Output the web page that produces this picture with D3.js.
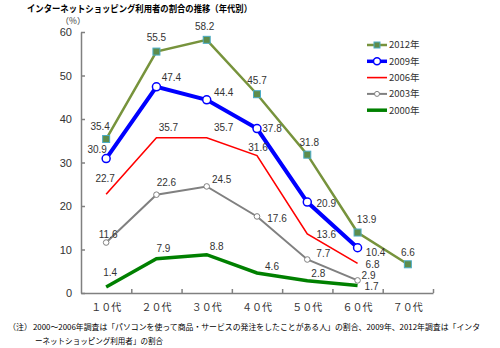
<!DOCTYPE html>
<html>
<head>
<meta charset="utf-8">
<script src="https://cdn.jsdelivr.net/npm/d3@7"></script>
<style>
body{margin:0;background:#fff;}
svg{display:block;font-family:"Liberation Sans",Arial,sans-serif;}
.jp{font-family:"Noto Sans CJK JP","Noto Sans",sans-serif;}
</style>
</head>
<body>
<div id="chart"></div>
<script>
// 年代
var ages = ["１０代","２０代","３０代","４０代","５０代","６０代","７０代"];
var yTicks = [0,10,20,30,40,50,60];
var seriesNames = ["2012年","2009年","2006年","2003年","2000年"];
// 値（％）
var v2012 = [35.4,55.5,58.2,45.7,31.8,13.9,6.6];
var v2009 = [30.9,47.4,44.4,37.8,20.9,10.4];
var v2006 = [22.7,35.7,35.7,31.6,13.6,6.8];
var v2003 = [11.6,22.6,24.5,17.6,7.7,2.9];
var v2000 = [1.4,7.9,8.8,4.6,2.8,1.7];

var W = 500, H = 348;
var svg = d3.select("#chart").append("svg").attr("width",W).attr("height",H);

var x = d3.scaleBand().domain(ages).range([81,433]);
var y = d3.scaleLinear().domain([0,60]).range([293,32]);
var cx = function(i){ return x(ages[i]) + x.bandwidth()/2; };

// タイトル
svg.append("text").attr("class","jp")
	.attr("x",27).attr("y",11.5)
	.attr("textLength",225).attr("lengthAdjust","spacingAndGlyphs")
	.style("font-size","9.5px").style("font-weight","bold").style("fill","#000")
	.text("インターネットショッピング利用者の割合の推移（年代別）");
svg.append("text").attr("class","jp")
	.attr("x",73).attr("y",23.5).attr("text-anchor","middle")
	.style("font-size","8.5px").style("fill","#333")
	.text("（%）");

// 軸
var yAxis = svg.append("g").attr("transform","translate(81,0)")
	.call(d3.axisLeft(y).tickValues(yTicks).tickSize(-4).tickSizeOuter(0).tickPadding(9));
yAxis.selectAll("text").style("font-size","11px").style("fill","#333");

var xb = d3.scaleLinear().domain([0,7]).range([81,433]);
var xAxis = svg.append("g").attr("transform","translate(0,293)")
	.call(d3.axisBottom(xb).ticks(7).tickSize(-4).tickSizeOuter(0).tickFormat(""));
xAxis.selectAll(".tick").filter(function(d){return d===0;}).remove();
svg.selectAll(".domain, .tick line").style("stroke","#808080").style("stroke-width",1.5);

svg.append("g").selectAll("text").data(ages).enter().append("text").attr("class","jp")
	.attr("x",function(d){return x(d)+x.bandwidth()/2;}).attr("y",311)
	.attr("text-anchor","middle")
	.style("font-size","10px").style("fill","#333")
	.text(function(d){return d;});

// 系列
var series = [
	{name:seriesNames[0], vals:v2012, color:"#77933C", w:2.5, marker:"square",
	 off:[[-6,-13],[0,-14],[-2,-13],[0,-14],[2,-12],[9,-13],[0,-12]]},
	{name:seriesNames[1], vals:v2009, color:"#0000FF", w:4, marker:"circle",
	 off:[[-9,-9],[15,-9],[17,-7],[15,0],[19,1],[18,5]]},
	{name:seriesNames[2], vals:v2006, color:"#FF0000", w:1.6, marker:null,
	 off:[[-1,-16],[12,-10],[17,-10],[1,-8],[19,1],[15,1]]},
	{name:seriesNames[3], vals:v2003, color:"#808080", w:2, marker:"small",
	 off:[[2,-8],[10,-12],[15,-7],[20,2],[16,-6],[11,-5]]},
	{name:seriesNames[4], vals:v2000, color:"#008000", w:3.5, marker:null,
	 off:[[4,-14],[7,-10],[10,-8],[15,-6],[11,-7],[14,1]]}
];

var line = d3.line().x(function(d,i){return cx(i);}).y(function(d){return y(d);});

// 奥から描く
series.slice().reverse().forEach(function(s){
	var g = svg.append("g");
	g.append("path").datum(s.vals).attr("d",line)
		.style("fill","none").style("stroke",s.color).style("stroke-width",s.w)
		.style("stroke-linejoin","miter");
	if(s.marker==="square"){
		g.selectAll("rect").data(s.vals).enter().append("rect")
			.attr("x",function(d,i){return cx(i)-3.5;}).attr("y",function(d){return y(d)-3.5;})
			.attr("width",7).attr("height",7)
			.style("fill","#5E8C4A").style("stroke","#4BACC6").style("stroke-width",1);
	}else if(s.marker==="circle"){
		g.selectAll("circle").data(s.vals).enter().append("circle")
			.attr("cx",function(d,i){return cx(i);}).attr("cy",function(d){return y(d);})
			.attr("r",4).style("fill","#fff").style("stroke",s.color).style("stroke-width",1.5);
	}else if(s.marker==="small"){
		g.selectAll("circle").data(s.vals).enter().append("circle")
			.attr("cx",function(d,i){return cx(i);}).attr("cy",function(d){return y(d);})
			.attr("r",2.8).style("fill","#fff").style("stroke",s.color).style("stroke-width",1);
	}
});

// データラベル
series.forEach(function(s){
	svg.append("g").selectAll("text").data(s.vals).enter().append("text")
		.attr("x",function(d,i){return cx(i)+s.off[i][0];})
		.attr("y",function(d,i){return y(d)+s.off[i][1];})
		.attr("dy","0.35em").attr("text-anchor","middle")
		.style("font-size","10px").style("fill","#333")
		.text(function(d){return d.toFixed(1);});
});

// 凡例
var leg = svg.append("g");
series.forEach(function(s,i){
	var ly = 45 + i*16.3;
	leg.append("line").attr("x1",367).attr("x2",387).attr("y1",ly).attr("y2",ly)
		.style("stroke",s.color).style("stroke-width",Math.min(s.w,3.5));
	if(s.marker==="square"){
		leg.append("rect").attr("x",374).attr("y",ly-3).attr("width",6).attr("height",6)
			.style("fill","#5E8C4A").style("stroke","#4BACC6");
	}else if(s.marker==="circle"){
		leg.append("circle").attr("cx",377).attr("cy",ly).attr("r",3.5)
			.style("fill","#fff").style("stroke",s.color).style("stroke-width",1.5);
	}else if(s.marker==="small"){
		leg.append("circle").attr("cx",377).attr("cy",ly).attr("r",2.5)
			.style("fill","#fff").style("stroke",s.color);
	}
	leg.append("text").attr("class","jp").attr("x",389).attr("y",ly).attr("dy","0.35em")
		.style("font-size","9.5px").style("fill","#333").text(s.name);
});

// 注
svg.append("text").attr("class","jp").attr("x",8).attr("y",330)
	.style("font-size","8px").style("fill","#000").text("（注）");
svg.append("text").attr("class","jp").attr("x",33).attr("y",330)
	.attr("textLength",447).attr("lengthAdjust","spacingAndGlyphs")
	.style("font-size","8px").style("fill","#000")
	.text("2000～2006年調査は「パソコンを使って商品・サービスの発注をしたことがある人」の割合、2009年、2012年調査は「インタ");
svg.append("text").attr("class","jp").attr("x",35).attr("y",344)
	.attr("textLength",128).attr("lengthAdjust","spacingAndGlyphs")
	.style("font-size","8px").style("fill","#000")
	.text("ーネットショッピング利用者」の割合");
</script>
</body>
</html>
